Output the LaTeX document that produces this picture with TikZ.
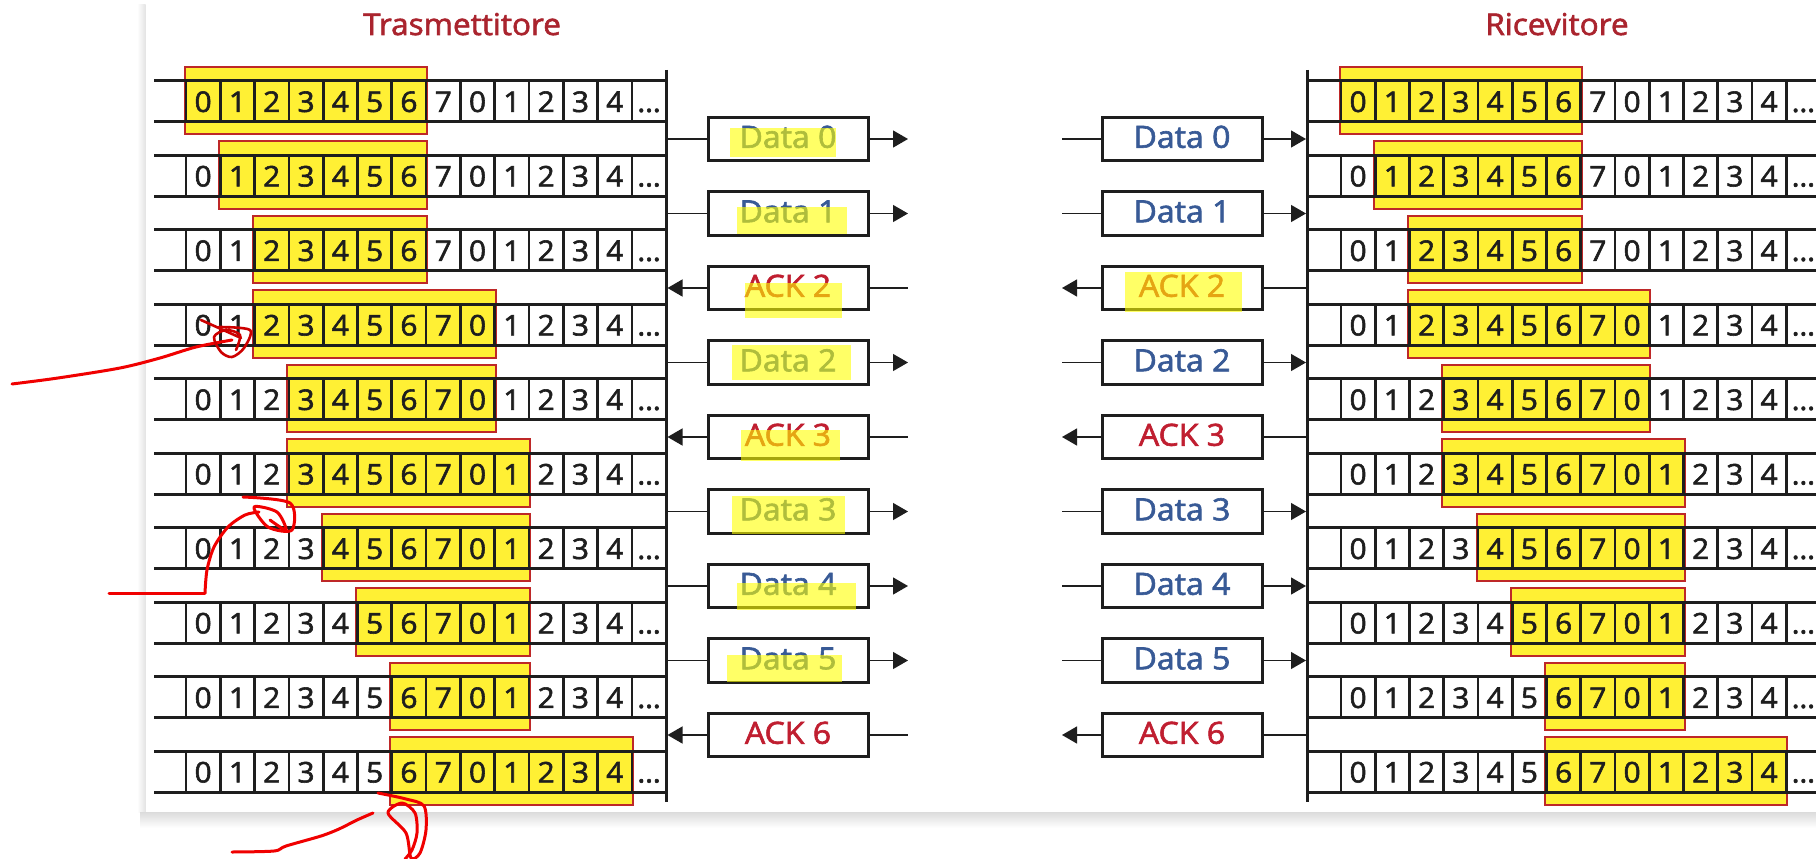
\documentclass[tikz,border=0pt]{standalone}
\usepackage{fontspec}
\setmainfont{Open Sans}[FakeBold=2,FakeStretch=1.05]
\usetikzlibrary{arrows.meta}
\definecolor{ttlred}{RGB}{170,36,46}
\definecolor{ackred}{RGB}{192,30,48}
\definecolor{datablue}{RGB}{56,90,150}
\definecolor{winyel}{RGB}{255,240,52}
\definecolor{winred}{RGB}{190,40,40}
\definecolor{penred}{RGB}{240,0,0}
\definecolor{pendark}{RGB}{205,0,0}
\definecolor{hlyel}{RGB}{255,255,0}
\definecolor{ink}{RGB}{30,30,30}
\begin{document}
\begin{tikzpicture}[x=1pt,y=-1pt,
  cell/.style={draw=ink,line width=2.7pt,minimum width=34.3pt,minimum height=41pt,inner sep=0pt,
    font=\fontsize{28.5}{28.5}\selectfont,text=ink,text height=23.5pt,text depth=2pt},
  rline/.style={draw=ink,line width=2.8pt},
  vline/.style={draw=ink,line width=3pt},
  win/.style={fill=winyel,draw=winred,line width=2pt},
  msgbox/.style={draw=ink,line width=3pt,minimum width=160pt,minimum height=43.5pt,inner sep=0pt,
    font=\fontsize{30.5}{30.5}\selectfont,text height=21.5pt,text depth=4pt},
  msgd/.style={msgbox,text=datablue},
  msga/.style={msgbox,text=ackred},
  conn/.style={draw=ink,line width=1.3pt},
  tipR/.style={-{Triangle[length=15pt,width=17pt]}},
  tipL/.style={{Triangle[length=15pt,width=17pt]}-},
  arrLd/.style={}, arrLa/.style={tipL},
  arrRd/.style={tipR}, arrRa/.style={},
  title/.style={font=\fontsize{30}{30}\selectfont,text=ttlred,anchor=base,inner sep=0pt},
  hl/.style={fill=hlyel,fill opacity=0.6},
  pen/.style={draw=penred,line width=3pt,line cap=round,line join=round},
  scrib/.style={draw=pendark,line width=2.6pt,line cap=round,line join=round},
]
\useasboundingbox (0,0) rectangle (1816,859);
\fill[white] (0,0) rectangle (1816,859);
% panel shadow
\shade[left color=white,right color=gray!22] (137,5) rectangle (145.5,812);
\shade[top color=gray!28,bottom color=white] (140,812) rectangle (1816,828);

\node[title] (ttx) at (462,35) {Trasmettitore};
\node[title] (trx) at (1557,35) {Ricevitore};

% windows
\foreach \r/\s/\e in {1/0/6,2/1/6,3/2/6,4/2/8,5/3/8,6/3/9,7/4/9,8/5/9,9/6/9,10/6/12}{
  \pgfmathsetmacro{\ty}{80.7+74.5*(\r-1)}
  \path[win] ({186+34.3*\s-1.5},{\ty-14}) rectangle ({186+34.3*(\e+1)+1},{\ty+41+12.5});
  \path[win] ({1341+34.25*\s-1.5},{\ty-14}) rectangle ({1341+34.25*(\e+1)+1},{\ty+41+12.5});
}

% cells and row lines
\foreach \r in {1,...,10}{
  \pgfmathsetmacro{\ty}{80.7+74.5*(\r-1)}
  \pgfmathsetmacro{\cy}{\ty+20.5}
  \pgfmathsetmacro{\by}{\ty+41}
  \foreach \lab [count=\c from 0] in {0,1,2,3,4,5,6,7,0,1,2,3,4,\dots}{
    \node[cell] (s\r-\c) at ({186+34.3*\c+17.15},\cy) {\lab};
    \node[cell] (r\r-\c) at ({1341+34.25*\c+17.125},\cy) {\lab};
  }
  \draw[rline] (154,\ty) -- (666,\ty) (154,\by) -- (666,\by);
  \draw[rline] (1307.5,\ty) -- (1816,\ty) (1307.5,\by) -- (1816,\by);
}

% vertical lines
\coordinate (svt) at (666,70);
\coordinate (svb) at (666,802);
\coordinate (rvt) at (1307.5,70);
\coordinate (rvb) at (1307.5,802);
\draw[vline] (svt) -- (svb);
\draw[vline] (rvt) -- (rvb);

% messages
\foreach \k/\txt/\kd in {1/Data 0/d,2/Data 1/d,3/ACK 2/a,4/Data 2/d,5/ACK 3/a,6/Data 3/d,7/Data 4/d,8/Data 5/d,9/ACK 6/a}{
  \pgfmathsetmacro{\my}{139+74.5*(\k-1)}
  \node[msg\kd] (sm\k) at (788,\my) {\txt};
  \node[msg\kd] (rm\k) at (1182,\my) {\txt};
  \coordinate (sl\k) at (667.5,\my);
  \coordinate (sr\k) at (908,\my);
  \coordinate (rl\k) at (1062,\my);
  \coordinate (rr\k) at (1306,\my);
  \draw[conn,arrL\kd] (sl\k) -- (sm\k.west);
  \draw[conn,arrR\kd] (sm\k.east) -- (sr\k);
  \draw[conn,arrL\kd] (rl\k) -- (rm\k.west);
  \draw[conn,arrR\kd] (rm\k.east) -- (rr\k);
}

% highlighter marks
\fill[hl] (730,128) rectangle (836,157);
\fill[hl] (737,207) rectangle (847,234);
\fill[hl] (745,283) rectangle (842,318);
\fill[hl] (732,345) rectangle (851,380);
\fill[hl] (741,430) rectangle (840,461);
\fill[hl] (732,496) rectangle (845,534);
\fill[hl] (737,583) rectangle (856,610);
\fill[hl] (727,655) rectangle (842,682);
\fill[hl] (1125,272) rectangle (1242,312);

% red pen annotations
\draw[pen] plot[smooth] coordinates {(12,384) (58,378) (120,368) (160,358) (196,347) (232,340)};
\draw[scrib] (201,320) -- (241,338);
\draw[scrib] plot[smooth] coordinates {(219,327) (250,330) (244,348) (232,357) (221,352) (214,337) (226,330) (240,335) (236,350)};

\draw[pen] (109,593) -- (205,593);
\draw[pen] plot[smooth] coordinates {(205,593) (207,570) (214,547) (228,527) (245,515) (259,512)};
\draw[pen] plot[smooth] coordinates {(243,497) (290,503) (292,530) (268,527) (254,507) (277,512) (286,530) (270,520)};

\draw[pen] plot[smooth] coordinates {(232,852) (274,851) (286,846) (321,836) (339,829) (357,820) (373,813)};
\draw[pen] plot[smooth] coordinates {(378,793) (406,799) (424,806) (426,830) (420,853) (411,858) (406,833) (388,813) (402,803) (415,813) (417,833) (412,850) (405,859)};
\end{tikzpicture}
\end{document}
